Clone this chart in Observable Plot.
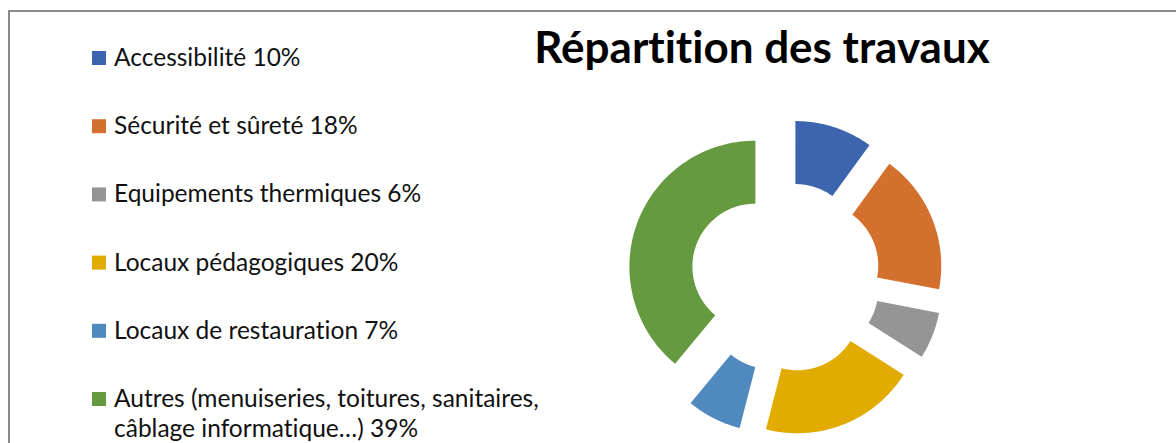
<!DOCTYPE html>
<html>
<head>
<meta charset="utf-8">
<script src="https://cdn.jsdelivr.net/npm/d3@7"></script>
<script src="https://cdn.jsdelivr.net/npm/@observablehq/plot@0.6"></script>
<style>
  html, body { margin: 0; padding: 0; background: #fff; }
  #wrap { position: relative; width: 1176px; height: 443px; overflow: hidden; background: #fff; }
  #wrap svg { position: absolute; }
  #wrap text { font-variant-ligatures: none; font-feature-settings: "liga" 0, "clig" 0; }
</style>
</head>
<body>
<div id="wrap"></div>
<script>
// ---- data ----
const title = "Répartition des travaux";
const categories = [
  "Accessibilité",
  "Sécurité et sûreté",
  "Equipements thermiques",
  "Locaux pédagogiques",
  "Locaux de restauration",
  "Autres (menuiseries, toitures, sanitaires, câblage informatique…)"
];
const shares = [10, 18, 6, 20, 7, 39];
const sliceColors = ["#3D64AE", "#D4702D", "#959595", "#E1AB00", "#4F89BE", "#669A40"];

// ---- layout / style ----
const W = 1176, H = 443;
const FONT = "Lato, 'Open Sans', sans-serif";
const wrap = document.getElementById("wrap");

const ctx = document.createElement("canvas").getContext("2d");
function measure(text, weight, size) {
  ctx.font = `${weight} ${size}px Lato`;
  try { ctx.fontVariantLigatures = "none"; } catch (e) {}
  // split to avoid ligature effect on measurement
  return ctx.measureText(text).width;
}
function fitSize(texts, weight, targetWidth) {
  const w = texts.reduce((s, t) => s + measure(t, weight, 100), 0);
  return 100 * targetWidth / w;
}

// ---- donut with Plot ----
const R = 1, r = 0.5, explode = 32 / 126, half = 160 / 126;
const pie = d3.pie().sort(null).value(d => d.share)(categories.map((c, i) => ({cat: c, share: shares[i]})));
const pts = [];
for (const s of pie) {
  const mid = (s.startAngle + s.endAngle) / 2;
  const ox = explode * Math.sin(mid), oy = explode * Math.cos(mid);
  const n = 80;
  for (let k = 0; k <= n; k++) {
    const a = s.startAngle + (s.endAngle - s.startAngle) * k / n;
    pts.push({cat: s.data.cat, x: ox + R * Math.sin(a), y: oy + R * Math.cos(a)});
  }
  for (let k = n; k >= 0; k--) {
    const a = s.startAngle + (s.endAngle - s.startAngle) * k / n;
    pts.push({cat: s.data.cat, x: ox + r * Math.sin(a), y: oy + r * Math.cos(a)});
  }
}
const size = 320;
const donut = Plot.plot({
  width: size, height: size,
  margin: 0,
  x: {domain: [-half, half], axis: null},
  y: {domain: [-half, half], axis: null},
  color: {domain: categories, range: sliceColors},
  marks: [
    Plot.line(pts, {x: "x", y: "y", z: "cat", fill: "cat", stroke: "none"})
  ]
});
donut.style.left = (785 - size / 2) + "px";
donut.style.top = (277 - size / 2) + "px";
wrap.appendChild(donut);

// ---- overlay: frame, title, legend ----
const svg = d3.create("svg").attr("width", W).attr("height", H).style("left", 0).style("top", 0);
svg.append("line").attr("x1", 9).attr("x2", 9).attr("y1", 10).attr("y2", H).attr("stroke", "#8a8a8a").attr("stroke-width", 2);
svg.append("line").attr("x1", 8).attr("x2", W).attr("y1", 11).attr("y2", 11).attr("stroke", "#8a8a8a").attr("stroke-width", 2);

const titleSize = fitSize([title], "bold", 457);
svg.append("text").text(title)
  .attr("x", 762).attr("y", 63).attr("text-anchor", "middle")
  .attr("font-family", FONT).attr("font-weight", "bold").attr("font-size", titleSize).attr("fill", "#000");

const labels = categories.map((c, i) => `${c} ${shares[i]}%`);
const legSize = fitSize(labels.slice(0, 5), "normal", 183 + 244 + 310 + 284 + 286);
const maxW = 470;
labels.forEach((lab, i) => {
  const base = 66 + 68.2 * i;
  svg.append("rect").attr("x", 92).attr("y", base - 15).attr("width", 14).attr("height", 14).attr("fill", sliceColors[i]);
  const words = lab.split(" ");
  const lines = [];
  let cur = "";
  for (const w of words) {
    const t = cur ? cur + " " + w : w;
    if (cur && measure(t, "normal", legSize) > maxW) { lines.push(cur); cur = w; } else cur = t;
  }
  lines.push(cur);
  const txt = svg.append("text").attr("font-family", FONT).attr("font-size", legSize).attr("fill", "#111");
  lines.forEach((ln, j) => txt.append("tspan").attr("x", 114).attr("y", base + 30 * j).text(ln));
});
wrap.appendChild(svg.node());
</script>
</body>
</html>
